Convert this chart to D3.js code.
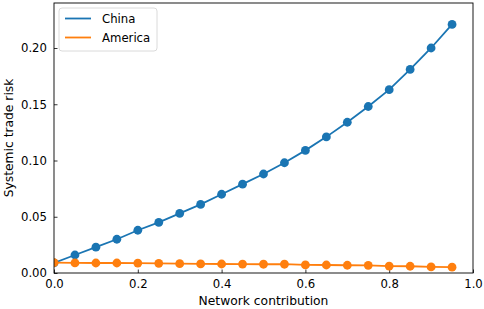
<!DOCTYPE html>
<html>
<head>
<meta charset="utf-8">
<script src="https://cdn.jsdelivr.net/npm/d3@7"></script>
<style>
  body { margin: 0; background: #fff; }
  svg { display: block; font-family: "DejaVu Sans", sans-serif; }
</style>
</head>
<body>
<div id="chart"></div>
<script>
const xs = [0, 0.05, 0.1, 0.15, 0.2, 0.25, 0.3, 0.35, 0.4, 0.45, 0.5, 0.55, 0.6, 0.65, 0.7, 0.75, 0.8, 0.85, 0.9, 0.95];
const china = [0.009, 0.016, 0.023, 0.030, 0.038, 0.045, 0.053, 0.061, 0.070, 0.079, 0.088, 0.098, 0.109, 0.121, 0.134, 0.148, 0.163, 0.181, 0.200, 0.221];
const america = [0.0092, 0.0090, 0.0089, 0.0089, 0.0088, 0.0086, 0.0083, 0.0081, 0.0080, 0.0079, 0.0078, 0.0078, 0.0072, 0.0071, 0.0069, 0.0068, 0.0062, 0.0060, 0.0054, 0.0052];
const xTicks = [0, 0.2, 0.4, 0.6, 0.8, 1.0];
const yTicks = [0, 0.05, 0.10, 0.15, 0.20];
const seriesNames = ["China", "America"];
const seriesColors = ["#1a75b3", "#ff7f0e"];

const width = 484, height = 309;
const margin = {top: 3, right: 11, bottom: 36, left: 54};

const svg = d3.select("#chart").append("svg")
    .attr("width", width)
    .attr("height", height);

const x = d3.scaleLinear().domain([0, 1]).range([margin.left, width - margin.right]);
const y = d3.scaleLinear().domain([0, 0.24]).range([height - margin.bottom, margin.top]);

// axes, ticks pointing inward
const xAxis = svg.append("g")
    .attr("transform", `translate(0,${y(0)})`)
    .call(d3.axisBottom(x).tickValues(xTicks).tickFormat(d3.format(".1f")).tickSizeInner(-3.5).tickSizeOuter(0).tickPadding(7));
const yAxis = svg.append("g")
    .attr("transform", `translate(${x(0)},0)`)
    .call(d3.axisLeft(y).tickValues(yTicks).tickFormat(d3.format(".2f")).tickSizeInner(-3.5).tickSizeOuter(0).tickPadding(7));
[xAxis, yAxis].forEach(g => {
  g.select(".domain").remove();
  g.selectAll(".tick line").attr("stroke", "#000").attr("stroke-width", 0.8);
  g.selectAll(".tick text").attr("font-size", 11.7).attr("fill", "#000")
    .attr("font-family", "DejaVu Sans, sans-serif");
});

const series = [china, america];
const line = d3.line().x((d, i) => x(xs[i])).y(d => y(d));

svg.append("clipPath").attr("id", "clip")
  .append("rect")
    .attr("x", x(0)).attr("y", y(0.24))
    .attr("width", x(1) - x(0)).attr("height", y(0) - y(0.24));

const plot = svg.append("g").attr("clip-path", "url(#clip)");
series.forEach((s, k) => {
  plot.append("path")
      .datum(s)
      .attr("fill", "none")
      .attr("stroke", seriesColors[k])
      .attr("stroke-width", 1.8)
      .attr("d", line);
  plot.selectAll(null)
    .data(s)
    .join("circle")
      .attr("cx", (d, i) => x(xs[i]))
      .attr("cy", d => y(d))
      .attr("r", 4.4)
      .attr("fill", seriesColors[k]);
});

// frame
svg.append("rect")
    .attr("x", x(0)).attr("y", y(0.24))
    .attr("width", x(1) - x(0)).attr("height", y(0) - y(0.24))
    .attr("fill", "none")
    .attr("stroke", "#000")
    .attr("stroke-width", 0.9);

// legend
const legend = svg.append("g").attr("transform", `translate(${x(0) + 5},${y(0.24) + 5})`);
legend.append("rect")
    .attr("width", 98).attr("height", 43).attr("rx", 3)
    .attr("fill", "#fff").attr("stroke", "#d0d0d0").attr("stroke-width", 0.8);
seriesNames.forEach((n, k) => {
  const ly = 10.5 + k * 19;
  legend.append("line")
      .attr("x1", 6).attr("x2", 32).attr("y1", ly).attr("y2", ly)
      .attr("stroke", seriesColors[k]).attr("stroke-width", 1.8);
  legend.append("text")
      .attr("x", 43).attr("y", ly).attr("dy", "0.35em")
      .attr("font-size", 11.7).attr("fill", "#000")
      .text(n);
});

// axis labels
svg.append("text")
    .attr("x", (x(0) + x(1)) / 2).attr("y", 305)
    .attr("text-anchor", "middle").attr("font-size", 12.3)
    .text("Network contribution");
svg.append("text")
    .attr("transform", `translate(13,${(y(0) + y(0.24)) / 2}) rotate(-90)`)
    .attr("text-anchor", "middle").attr("font-size", 12.3)
    .text("Systemic trade risk");
</script>
</body>
</html>
